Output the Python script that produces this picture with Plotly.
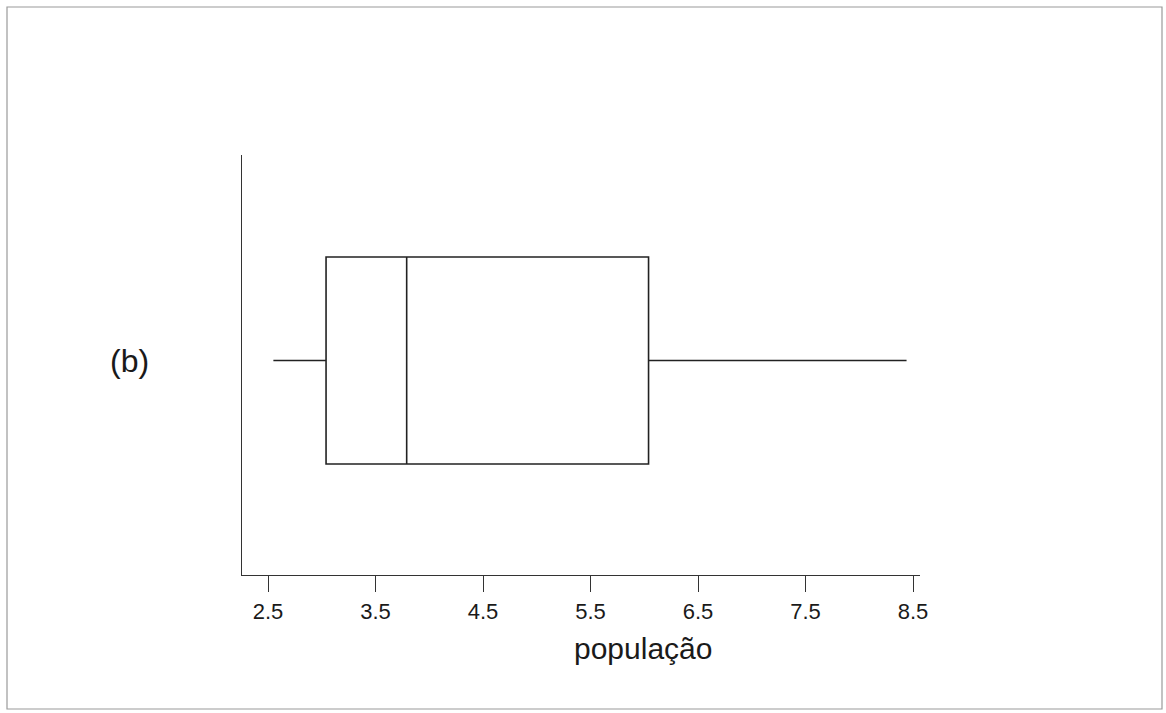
import plotly.graph_objects as go

# Five-number summary of the "população" sample
q1 = [3.04]
median = [3.79]
q3 = [6.04]
lower_fence = [2.55]
upper_fence = [8.44]
group_pos = [0]

tick_vals = [2.5, 3.5, 4.5, 5.5, 6.5, 7.5, 8.5]
tick_text = ["2.5", "3.5", "4.5", "5.5", "6.5", "7.5", "8.5"]

W, H = 1166, 713
L, R, T, B = 242, 246, 155, 138
pw, ph = W - L - R, H - T - B


def px_to_paper(x, y):
    return (x - L) / pw, (H - B - y) / ph


fig = go.Figure()
fig.add_trace(go.Box(
    q1=q1, median=median, q3=q3,
    lowerfence=lower_fence, upperfence=upper_fence,
    y=group_pos, orientation="h",
    width=1, whiskerwidth=0,
    fillcolor="rgba(0,0,0,0)",
    line=dict(color="#222222", width=1.6),
    boxpoints=False, showlegend=False, hoverinfo="skip",
))

# Outer frame around the figure
x0, y0 = px_to_paper(7, 7)
x1, y1 = px_to_paper(1162, 709)
frame = dict(type="rect", xref="paper", yref="paper", x0=x0, x1=x1, y0=y1, y1=y0,
             line=dict(color="#9a9a9a", width=1.2), layer="below")

lx, ly = px_to_paper(129, 361)
tx, ty = px_to_paper(643, 648)

fig.update_layout(
    width=W, height=H,
    margin=dict(l=L, r=R, t=T, b=B),
    paper_bgcolor="white", plot_bgcolor="white",
    font=dict(family="Liberation Sans, Arial, sans-serif", color="#1a1a1a"),
    shapes=[frame],
    annotations=[
        dict(text="(b)", xref="paper", yref="paper", x=lx, y=ly,
             showarrow=False, xanchor="center", yanchor="middle",
             font=dict(size=32, color="#1a1a1a")),
        dict(text="população", xref="paper", yref="paper", x=tx, y=ty,
             showarrow=False, xanchor="center", yanchor="middle",
             font=dict(size=30, color="#1a1a1a")),
    ],
    xaxis=dict(
        range=[2.5 + (L - 268) / 107.5, 2.5 + (W - R - 268) / 107.5],
        tickvals=tick_vals, ticktext=tick_text,
        ticks="outside", ticklen=16, tickwidth=1.4, tickcolor="#333333",
        showline=True, linecolor="#333333", linewidth=1.4,
        showgrid=False, zeroline=False,
        tickfont=dict(size=22, color="#1a1a1a"),
    ),
    yaxis=dict(
        range=[-1.036, 0.993],
        showticklabels=False, ticks="",
        showline=True, linecolor="#333333", linewidth=1.4,
        showgrid=False, zeroline=False,
    ),
)

fig.write_html("out.html")
